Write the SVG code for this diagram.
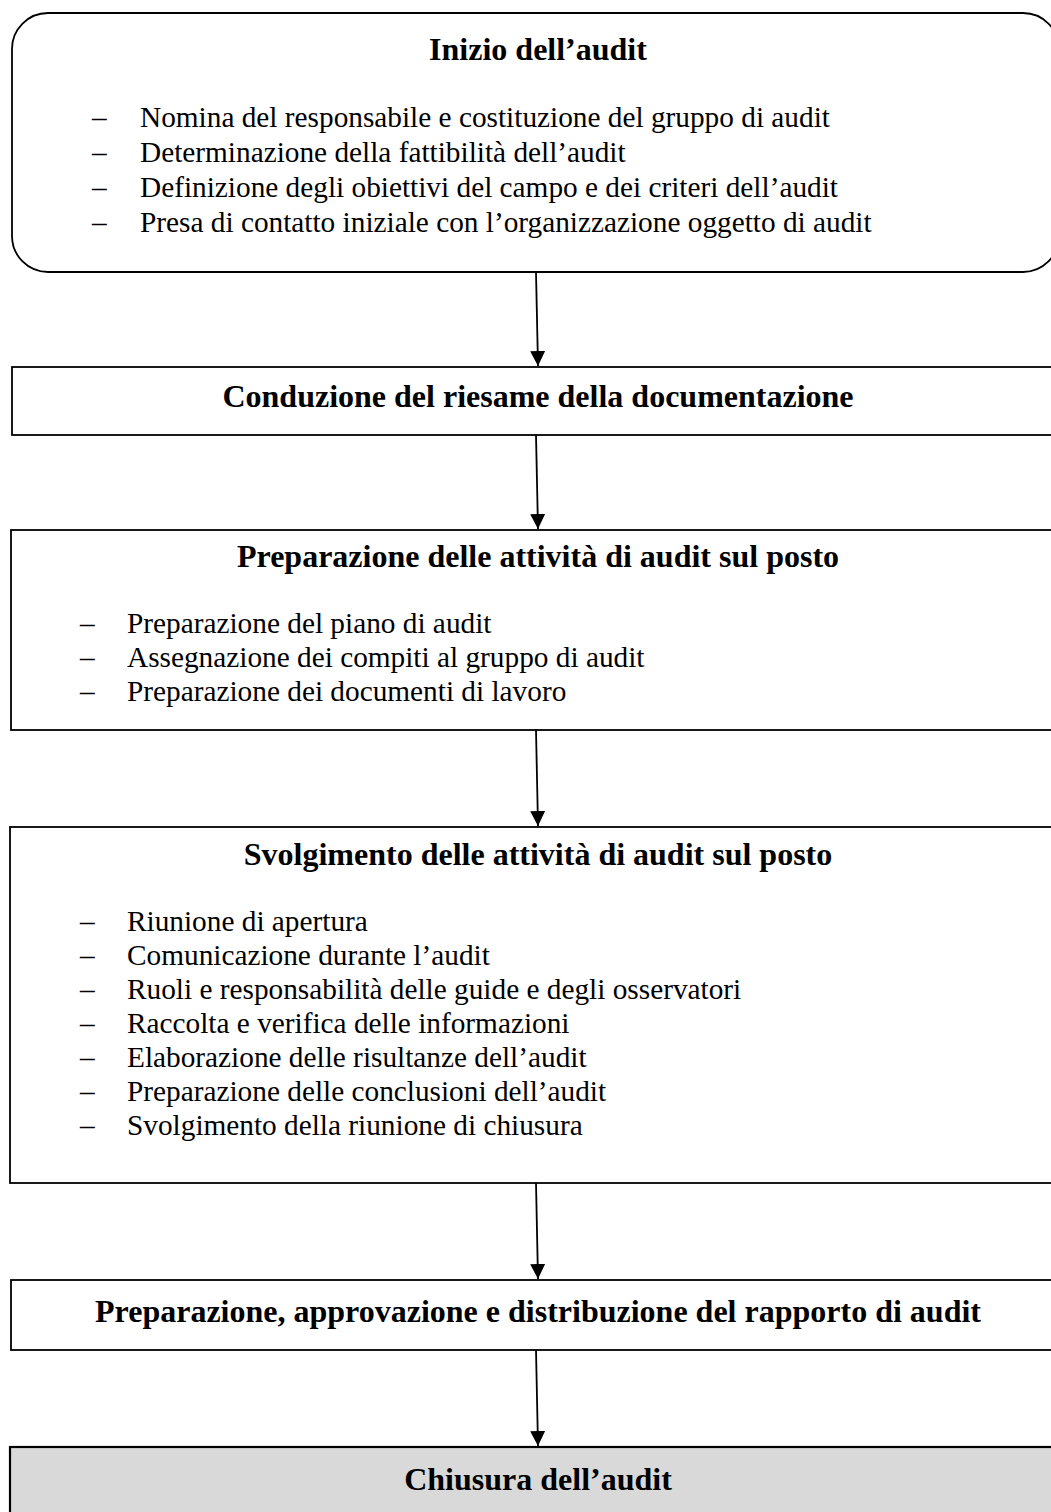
<svg xmlns="http://www.w3.org/2000/svg" width="1051" height="1512" viewBox="0 0 1051 1512">
<style>
.box{fill:#ffffff;stroke:#000000;stroke-width:1.8}
.grey{fill:#d9d9d9;stroke:#000000;stroke-width:2.2}
.t{font-family:"Liberation Serif","Times New Roman",serif;font-size:32px;font-weight:bold;text-anchor:middle;fill:#000}
.i{font-family:"Liberation Serif","Times New Roman",serif;font-size:29.3px;fill:#000}
.conn{stroke:#000;stroke-width:1.8;fill:none}
</style>
<defs>
<marker id="ah" markerWidth="15" markerHeight="15" refX="15" refY="7.5" orient="auto" markerUnits="userSpaceOnUse">
<path d="M0,0 L15,7.5 L0,15 Z" fill="#000"/>
</marker>
</defs>
<rect width="1051" height="1512" fill="#ffffff"/>
<g id="n1">
<rect class="box" x="12" y="13" width="1047" height="259" rx="36" ry="36"/>
<text class="t" x="538" y="60">Inizio dell’audit</text>
<text class="i" x="92" y="127">–</text><text class="i" x="140" y="127">Nomina del responsabile e costituzione del gruppo di audit</text>
<text class="i" x="92" y="162">–</text><text class="i" x="140" y="162">Determinazione della fattibilità dell’audit</text>
<text class="i" x="92" y="197">–</text><text class="i" x="140" y="197">Definizione degli obiettivi del campo e dei criteri dell’audit</text>
<text class="i" x="92" y="232">–</text><text class="i" x="140" y="232">Presa di contatto iniziale con l’organizzazione oggetto di audit</text>
</g>
<g id="n2">
<rect class="box" x="12" y="367" width="1050" height="68"/>
<text class="t" x="538" y="407">Conduzione del riesame della documentazione</text>
</g>
<g id="n3">
<rect class="box" x="11" y="530" width="1050" height="200"/>
<text class="t" x="538" y="567">Preparazione delle attività di audit sul posto</text>
<text class="i" x="80" y="633">–</text><text class="i" x="127" y="633">Preparazione del piano di audit</text>
<text class="i" x="80" y="667">–</text><text class="i" x="127" y="667">Assegnazione dei compiti al gruppo di audit</text>
<text class="i" x="80" y="701">–</text><text class="i" x="127" y="701">Preparazione dei documenti di lavoro</text>
</g>
<g id="n4">
<rect class="box" x="10" y="827" width="1050" height="356"/>
<text class="t" x="538" y="865">Svolgimento delle attività di audit sul posto</text>
<text class="i" x="80" y="931">–</text><text class="i" x="127" y="931">Riunione di apertura</text>
<text class="i" x="80" y="965">–</text><text class="i" x="127" y="965">Comunicazione durante l’audit</text>
<text class="i" x="80" y="999">–</text><text class="i" x="127" y="999">Ruoli e responsabilità delle guide e degli osservatori</text>
<text class="i" x="80" y="1033">–</text><text class="i" x="127" y="1033">Raccolta e verifica delle informazioni</text>
<text class="i" x="80" y="1067">–</text><text class="i" x="127" y="1067">Elaborazione delle risultanze dell’audit</text>
<text class="i" x="80" y="1101">–</text><text class="i" x="127" y="1101">Preparazione delle conclusioni dell’audit</text>
<text class="i" x="80" y="1135">–</text><text class="i" x="127" y="1135">Svolgimento della riunione di chiusura</text>
</g>
<g id="n5">
<rect class="box" x="11" y="1280" width="1050" height="70"/>
<text class="t" x="538" y="1322">Preparazione, approvazione e distribuzione del rapporto di audit</text>
</g>
<g id="n6">
<rect class="grey" x="10" y="1447" width="1050" height="80"/>
<text class="t" x="538" y="1490">Chiusura dell’audit</text>
</g>
<g id="connectors">
<line class="conn" x1="536" y1="272" x2="538" y2="366" marker-end="url(#ah)"/>
<line class="conn" x1="536" y1="435" x2="538" y2="529" marker-end="url(#ah)"/>
<line class="conn" x1="536" y1="730" x2="538" y2="826" marker-end="url(#ah)"/>
<line class="conn" x1="536" y1="1183" x2="538" y2="1279" marker-end="url(#ah)"/>
<line class="conn" x1="536" y1="1350" x2="538" y2="1446" marker-end="url(#ah)"/>
</g>
</svg>
